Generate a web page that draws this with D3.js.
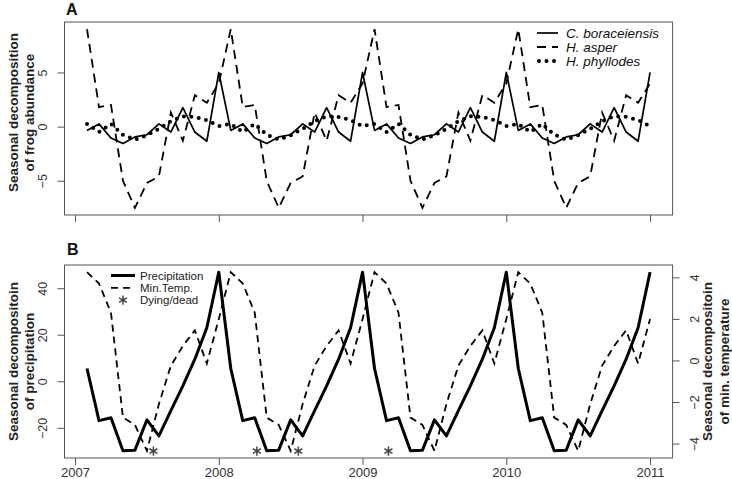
<!DOCTYPE html>
<html>
<head>
<meta charset="utf-8">
<script src="https://cdn.jsdelivr.net/npm/d3@7"></script>
<style>
  body { margin: 0; background: #fff; }
  svg { display: block; font-family: "Liberation Sans", Arial, sans-serif; }
</style>
</head>
<body>
<svg id="chart" width="732" height="479"></svg>
<script>
// monthly series, Feb 2007 .. Jan 2011
const startYear = 2007, startMonth = 2;
const years = [2007, 2008, 2009, 2010, 2011];

const boraceiensis = [
  -0.35, 0.25, -1.05, -1.55, -0.95, -0.75, 0.25, -0.5, 1.75, -0.5, -1.35, 5.0,
  -0.35, 0.25, -1.05, -1.55, -0.95, -0.75, 0.25, -0.5, 1.75, -0.5, -1.35, 5.0,
  -0.35, 0.25, -1.05, -1.55, -0.95, -0.75, 0.25, -0.5, 1.75, -0.5, -1.35, 5.0,
  -0.35, 0.25, -1.05, -1.55, -0.95, -0.75, 0.25, -0.5, 1.75, -0.5, -1.35, 5.0
];
const asper = [
  9.0, 1.8, 2.0, -5.0, -7.5, -5.2, -4.6, 1.3, -1.3, 2.9, 2.2, 4.0,
  9.0, 1.8, 2.0, -5.0, -7.5, -5.2, -4.6, 1.3, -1.3, 2.9, 2.2, 4.0,
  9.0, 1.8, 2.0, -5.0, -7.5, -5.2, -4.6, 1.3, -1.3, 2.9, 2.2, 4.0,
  9.0, 1.8, 2.0, -5.0, -7.5, -5.2, -4.6, 1.3, -1.3, 2.9, 2.2, 4.0
];
const phyllodes = [
  0.25, -0.5, 0.25, -0.75, -1.2, -0.8, -0.2, 0.5, 0.95, 0.9, 0.6, 0.05,
  0.25, -0.5, 0.25, -0.75, -1.2, -0.8, -0.2, 0.5, 0.95, 0.9, 0.6, 0.05,
  0.25, -0.5, 0.25, -0.75, -1.2, -0.8, -0.2, 0.5, 0.95, 0.9, 0.6, 0.05,
  0.25, -0.5, 0.25, -0.75, -1.2, -0.8, -0.2, 0.5, 0.95, 0.9, 0.6, 0.05
];
const precipitation = [
  5.5, -16.9, -15.7, -29.9, -29.6, -16.6, -23.5, -12.6, -2.0, 9.5, 23.0, 46.9,
  5.5, -16.9, -15.7, -29.9, -29.6, -16.6, -23.5, -12.6, -2.0, 9.5, 23.0, 46.9,
  5.5, -16.9, -15.7, -29.9, -29.6, -16.6, -23.5, -12.6, -2.0, 9.5, 23.0, 46.9,
  5.5, -16.9, -15.7, -29.9, -29.6, -16.6, -23.5, -12.6, -2.0, 9.5, 23.0, 46.9
];
const minTemp = [
  4.25, 3.7, 2.3, -2.75, -3.1, -4.35, -2.1, -0.25, 0.7, 1.45, -0.15, 2.0,
  4.25, 3.7, 2.3, -2.75, -3.1, -4.35, -2.1, -0.25, 0.7, 1.45, -0.15, 2.0,
  4.25, 3.7, 2.3, -2.75, -3.1, -4.35, -2.1, -0.25, 0.7, 1.45, -0.15, 2.0,
  4.25, 3.7, 2.3, -2.75, -3.1, -4.35, -2.1, -0.25, 0.7, 1.45, -0.15, 2.0
];
// dying / dead frogs found (decimal year), drawn at the bottom of panel B
const dyingDates = [2007.545, 2008.265, 2008.553, 2009.18];
const dyingLevel = -30;

const ticksA = [-5, 0, 5];
const ticksPrecip = [-20, 0, 20, 40];
const ticksTemp = [-4, -2, 0, 2, 4];

const svg = d3.select("#chart");
const left = 64.5, right = 672.6;
const pA = { top: 22, bottom: 215 };
const pB = { top: 265, bottom: 458 };
const axisCol = "#555", textCol = "#333";

// R style 4% padding
function pad(ext) { const d = (ext[1] - ext[0]) * 0.04; return [ext[0] - d, ext[1] + d]; }

const time = boraceiensis.map((_, i) => startYear + (startMonth - 1 + i) / 12);
const x = d3.scaleLinear().domain(pad(d3.extent(time))).range([left, right]);

const yA = d3.scaleLinear()
  .domain(pad(d3.extent(boraceiensis.concat(asper, phyllodes))))
  .range([pA.bottom, pA.top]);
const yP = d3.scaleLinear().domain(pad(d3.extent(precipitation))).range([pB.bottom, pB.top]);
const yT = d3.scaleLinear().domain(pad(d3.extent(minTemp))).range([pB.bottom, pB.top]);

const lineOf = (y) => d3.line().x((d, i) => x(time[i])).y(d => y(d));

function styleAxis(g) {
  g.select(".domain").remove();
  g.selectAll("line").attr("stroke", axisCol);
  g.selectAll("text").attr("fill", textCol).style("font-size", "12.5px")
    .style("font-family", "'Liberation Sans', Arial, sans-serif");
}

function rotateLabels(g, dx) {
  g.selectAll("text")
    .attr("x", null).attr("y", null).attr("dy", null)
    .attr("text-anchor", "middle")
    .attr("transform", `translate(${dx},0) rotate(-90)`);
}

function box(p) {
  svg.append("rect")
    .attr("x", left).attr("y", p.top)
    .attr("width", right - left).attr("height", p.bottom - p.top)
    .attr("fill", "none").attr("stroke", axisCol).attr("stroke-width", 1);
}

// ---------- panel A ----------
svg.append("g").attr("transform", `translate(0,${pA.bottom})`)
  .call(d3.axisBottom(x).tickValues(years).tickSize(7).tickFormat(""))
  .call(styleAxis);
svg.append("g").attr("transform", `translate(${left},0)`)
  .call(d3.axisLeft(yA).tickValues(ticksA).tickSize(7))
  .call(styleAxis).call(g => rotateLabels(g, -18));

svg.append("path").attr("d", lineOf(yA)(phyllodes))
  .attr("fill", "none").attr("stroke", "#000").attr("stroke-width", 4)
  .attr("stroke-linecap", "round").attr("stroke-dasharray", "0,7.5");
svg.append("path").attr("d", lineOf(yA)(asper))
  .attr("fill", "none").attr("stroke", "#000").attr("stroke-width", 1.8)
  .attr("stroke-dasharray", "9,6");
svg.append("path").attr("d", lineOf(yA)(boraceiensis))
  .attr("fill", "none").attr("stroke", "#000").attr("stroke-width", 1.7)
  .attr("stroke-linejoin", "round");
box(pA);

svg.append("text").attr("x", 66).attr("y", 15).text("A")
  .style("font-weight", "bold").style("font-size", "16px").attr("fill", "#111");

const legA = [
  { label: "C. boraceiensis", dash: null, w: 1.7, cap: "butt" },
  { label: "H. asper", dash: "9,6", w: 1.8, cap: "butt" },
  { label: "H. phyllodes", dash: "0,7.5", w: 4, cap: "round" }
];
legA.forEach((d, i) => {
  const ly = 33 + i * 14;
  svg.append("line").attr("x1", d.cap === "round" ? 539 : 537).attr("x2", 558)
    .attr("y1", ly).attr("y2", ly)
    .attr("stroke", "#000").attr("stroke-width", d.w)
    .attr("stroke-linecap", d.cap).attr("stroke-dasharray", d.dash);
  svg.append("text").attr("x", 566).attr("y", ly).attr("dy", "0.36em")
    .text(d.label).style("font-style", "italic").style("font-size", "13.5px").attr("fill", "#111");
});

svg.append("text")
  .attr("transform", `translate(13,${(pA.top + pA.bottom) / 2 - 6}) rotate(-90)`)
  .attr("text-anchor", "middle").attr("dy", "0.35em")
  .style("font-weight", "bold").style("font-size", "13.5px").attr("fill", "#222")
  .text("Seasonal decomposition");
svg.append("text")
  .attr("transform", `translate(29,${(pA.top + pA.bottom) / 2 - 6}) rotate(-90)`)
  .attr("text-anchor", "middle").attr("dy", "0.35em")
  .style("font-weight", "bold").style("font-size", "13.5px").attr("fill", "#222")
  .text("of frog abundance");

// ---------- panel B ----------
svg.append("g").attr("transform", `translate(0,${pB.bottom})`)
  .call(d3.axisBottom(x).tickValues(years).tickSize(7).tickPadding(3).tickFormat(d3.format("d")))
  .call(styleAxis)
  .call(g => g.selectAll("text").style("font-size", "13px"));
svg.append("g").attr("transform", `translate(${left},0)`)
  .call(d3.axisLeft(yP).tickValues(ticksPrecip).tickSize(7))
  .call(styleAxis).call(g => rotateLabels(g, -18));
svg.append("g").attr("transform", `translate(${right},0)`)
  .call(d3.axisRight(yT).tickValues(ticksTemp).tickSize(7))
  .call(styleAxis).call(g => rotateLabels(g, 26));

svg.append("path").attr("d", lineOf(yT)(minTemp))
  .attr("fill", "none").attr("stroke", "#000").attr("stroke-width", 1.8)
  .attr("stroke-dasharray", "7,5");
svg.append("path").attr("d", lineOf(yP)(precipitation))
  .attr("fill", "none").attr("stroke", "#000").attr("stroke-width", 3)
  .attr("stroke-linejoin", "round");

const asteriskType = d3.symbolAsterisk || {
  draw(ctx, size) {
    const r = Math.sqrt(size) * 0.59, t = r / 2, u = t * Math.sqrt(3);
    ctx.moveTo(0, r); ctx.lineTo(0, -r);
    ctx.moveTo(-u, -t); ctx.lineTo(u, t);
    ctx.moveTo(-u, t); ctx.lineTo(u, -t);
  }
};
const star = d3.symbol().type(asteriskType).size(60);

svg.selectAll("path.dying").data(dyingDates).join("path")
  .attr("class", "dying")
  .attr("transform", d => `translate(${x(d)},${yP(dyingLevel)})`)
  .attr("d", star).attr("fill", "none").attr("stroke", "#444").attr("stroke-width", 1.5);
box(pB);

svg.append("text").attr("x", 67).attr("y", 255).text("B")
  .style("font-weight", "bold").style("font-size", "16px").attr("fill", "#111");

const legB = [
  { label: "Precipitation", kind: "line", dash: null, w: 3 },
  { label: "Min.Temp.", kind: "line", dash: "7,5", w: 1.8 },
  { label: "Dying/dead", kind: "star" }
];
legB.forEach((d, i) => {
  const ly = 275.5 + i * 12.3;
  if (d.kind === "line") {
    svg.append("line").attr("x1", 111).attr("x2", 135).attr("y1", ly).attr("y2", ly)
      .attr("stroke", "#000").attr("stroke-width", d.w).attr("stroke-dasharray", d.dash);
  } else {
    svg.append("path").attr("transform", `translate(123,${ly})`).attr("d", star)
      .attr("fill", "none").attr("stroke", "#444").attr("stroke-width", 1.5);
  }
  svg.append("text").attr("x", 140).attr("y", ly).attr("dy", "0.36em")
    .text(d.label).style("font-size", "11.5px").attr("fill", "#222");
});

const midB = (pB.top + pB.bottom) / 2;
[["Seasonal decompositoin", 13], ["of precipitation", 29]].forEach(([t, cx]) => {
  svg.append("text").attr("transform", `translate(${cx},${midB}) rotate(-90)`)
    .attr("text-anchor", "middle").attr("dy", "0.35em")
    .style("font-weight", "bold").style("font-size", "13.5px").attr("fill", "#222").text(t);
});
[["Seasonal decompositoin", 707], ["of min. temperature", 724]].forEach(([t, cx]) => {
  svg.append("text").attr("transform", `translate(${cx},${midB}) rotate(-90)`)
    .attr("text-anchor", "middle").attr("dy", "0.35em")
    .style("font-weight", "bold").style("font-size", "13.5px").attr("fill", "#222").text(t);
});
</script>
</body>
</html>
